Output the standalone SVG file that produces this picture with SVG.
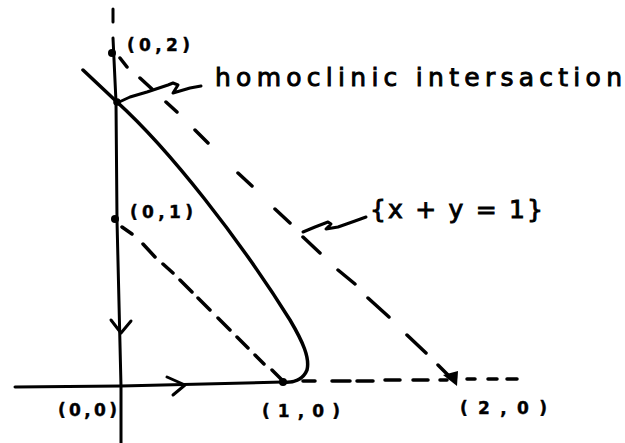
<svg xmlns="http://www.w3.org/2000/svg" width="625" height="443" viewBox="0 0 625 443">
<style>
.ln{fill:none;stroke:#000;stroke-width:3;stroke-linecap:round;stroke-linejoin:round}
.dash{fill:none;stroke:#000;stroke-width:3.5;stroke-linecap:round}
.dot{fill:#000}
.lab{font-family:"DejaVu Sans","Liberation Sans",sans-serif;font-weight:bold;font-size:17px;fill:#000;stroke:#000;stroke-width:0.4}
.hand{font-family:"DejaVu Sans","Liberation Sans",sans-serif;font-size:25px;fill:#000;stroke:#000;stroke-width:0.9}
</style>
<rect width="625" height="443" fill="#fff"/>
<g id="axes">
<path class="ln" d="M113,9 L113,22"/>
<path class="ln" d="M113,38 L116,102 L117,220 L121,386 L121,443"/>
<path class="ln" d="M15,387 L121,386 L283,382"/>
<path class="ln" d="M111,320 L121,333 L131,321"/>
<path class="ln" d="M167,377 L185,385 L173,395"/>
</g>
<g id="connectors">
<path class="dash" d="M303,381 L315,381 M332,381 L350,381 M357,381 L373,381 M385,380 L400,380 M413,380 L428,380 M440,380 L447,380 M467,379 L475,379 M488,379 L497,379 M507,379 L517,379"/>
<path class="dash" d="M120,58 L127,67 M140,78 L152,89 M166,102 L177,112 M195,130 L208,143 M238,173 L252,186 M275,209 L290,223 M303,237 L320,253 M338,270 L355,284 M368,298 L389,317 M407,335 L426,353 M438,365 L450,377"/>
<polygon points="443,375 458,371 457,386" fill="#000"/>
<path class="dash" d="M122,227 L132,234 M143,244 L155,257 M163,264 L173,273 M180,280 L192,292 M198,298 L210,310 M218,318 L230,330 M237,337 L248,348 M255,355 L264,364 M272,370 L284,382"/>
<path class="ln" style="stroke-width:3.5" d="M83,70 L117,102 C170,150 240,240 290,320 C303,342 310,358 307,370 C303,380 293,383 283,382"/>
<path class="ln" d="M117,103 L130,97 L147,92 L168,85 L173,83 L178,85 L173,93 L190,88 L201,86"/>
<path class="ln" d="M303,232 L315,227 L328,222 L331,224 L326,229 L338,227 L355,221 L366,217"/>
</g>
<g id="points">
<circle class="dot" cx="112" cy="53" r="4"/>
<circle class="dot" cx="117" cy="102" r="3.8"/>
<circle class="dot" cx="115" cy="219" r="4"/>
<circle class="dot" cx="283" cy="382" r="4"/>
</g>
<g id="labels">
<text class="lab" x="127" y="51" textLength="63" lengthAdjust="spacing">(0,2)</text>
<text class="lab" x="130" y="218" textLength="63" lengthAdjust="spacing">(0,1)</text>
<text class="lab" x="58" y="416" textLength="59" lengthAdjust="spacing">(0,0)</text>
<text class="lab" x="262" y="417" textLength="78" lengthAdjust="spacing">(1,0)</text>
<text class="lab" x="460" y="414" textLength="87" lengthAdjust="spacing">(2,0)</text>
<text class="hand" x="215" y="86" textLength="407" lengthAdjust="spacing">homoclinic intersaction</text>
<text class="hand" x="370" y="218" textLength="173" lengthAdjust="spacing">{x + y = 1}</text>
</g>
</svg>
